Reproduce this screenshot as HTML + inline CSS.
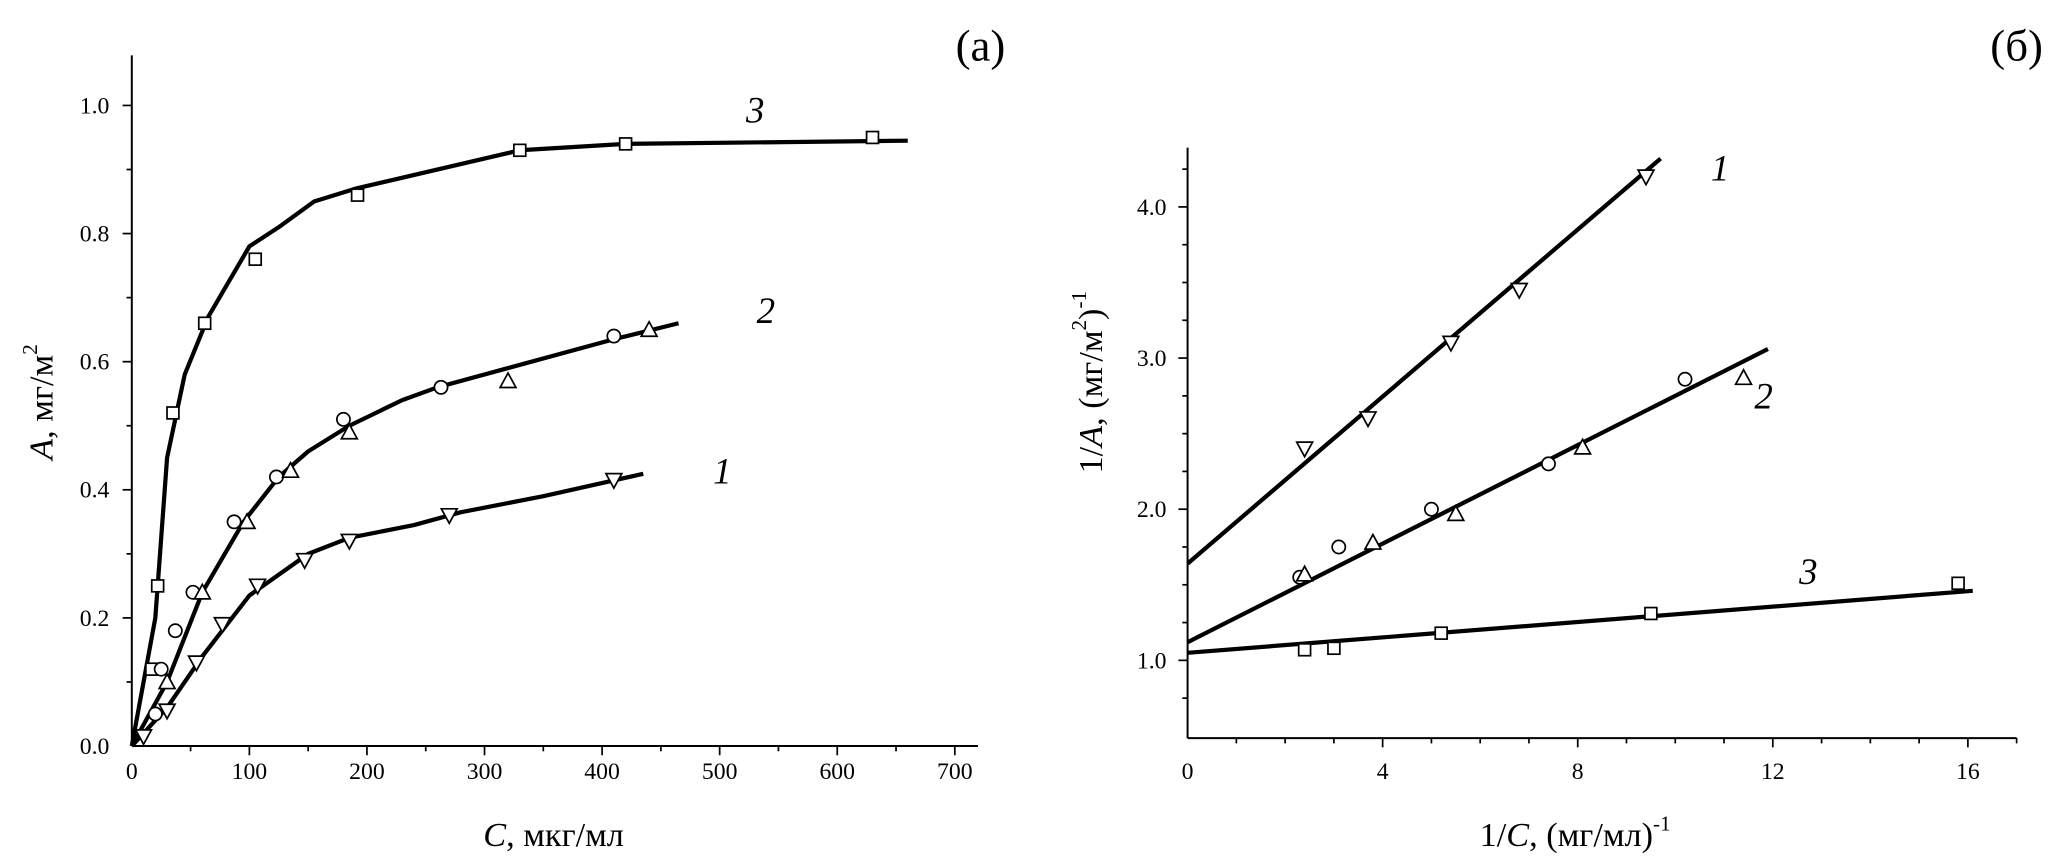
<!DOCTYPE html>
<html><head><meta charset="utf-8"><style>
html,body{margin:0;padding:0;background:#fff;}
svg{display:block;font-family:"Liberation Serif",serif;}
</style></head><body>
<svg id="fig" width="2067" height="864" viewBox="0 0 1568.2 655.5" xmlns="http://www.w3.org/2000/svg">
<rect width="1568.2" height="655.5" fill="#fff"/>
<g id="pa"></g>
<g id="pb"></g>
<text x="725" y="46" font-size="34">(а)</text>
<text x="1510" y="46" font-size="34">(б)</text>
</svg>
<script>
// Panel (a) data
const a3x=[17,22,35,62,105,192,330,420,630];
const a3y=[0.12,0.25,0.52,0.66,0.76,0.86,0.93,0.94,0.95];
const a3cx=[0,20,30,45,65,100,125,155,190,330,420,660];
const a3cy=[0,0.2,0.45,0.58,0.67,0.78,0.81,0.85,0.87,0.93,0.94,0.945];
const a2ox=[20,25,37,52,87,123,180,263,410];
const a2oy=[0.05,0.12,0.18,0.24,0.35,0.42,0.51,0.56,0.64];
const a2tx=[30,60,98,135,185,320,440];
const a2ty=[0.10,0.24,0.35,0.43,0.49,0.57,0.65];
const a2cx=[0,30,60,95,125,150,185,230,260,320,410,465];
const a2cy=[0,0.1,0.24,0.35,0.42,0.46,0.5,0.54,0.56,0.59,0.635,0.66];
const a1x=[10,30,55,77,107,147,185,270,410];
const a1y=[0.015,0.055,0.13,0.19,0.25,0.29,0.32,0.36,0.415];
const a1cx=[0,30,60,100,150,185,240,280,350,435];
const a1cy=[0,0.06,0.14,0.235,0.3,0.325,0.345,0.365,0.39,0.425];
const aXTicks=[0,100,200,300,400,500,600,700];
const aYTicks=[0,0.2,0.4,0.6,0.8,1.0];
// Panel (b) data
const b1x=[2.4,3.7,5.4,6.8,9.4];
const b1y=[2.4,2.6,3.1,3.45,4.2];
const b1lx=[0,9.7]; const b1ly=[1.64,4.32];
const b2ox=[2.3,3.1,5.0,7.4,10.2];
const b2oy=[1.55,1.75,2.0,2.3,2.86];
const b2tx=[2.4,3.8,5.5,8.1,11.4];
const b2ty=[1.57,1.78,1.97,2.41,2.87];
const b2lx=[0,11.9]; const b2ly=[1.12,3.06];
const b3x=[2.4,3.0,5.2,9.5,15.8];
const b3y=[1.07,1.08,1.18,1.31,1.51];
const b3lx=[0,16.1]; const b3ly=[1.05,1.46];
const bXTicks=[0,4,8,12,16];
const bYTicks=[1.0,2.0,3.0,4.0];

const NS="http://www.w3.org/2000/svg";
function mk(p,t,at){const e=document.createElementNS(NS,t);for(const k in at)e.setAttribute(k,at[k]);p.appendChild(e);return e;}
const ax=v=>100+v*0.892, ay=v=>566-v*486;
const bx=v=>901+v*37, by=v=>501-(v-1)*114.67;

function marker(g,t,x,y,name){
  let e;
  if(t==='sq') e=mk(g,'rect',{x:x-4.5,y:y-4.5,width:9,height:9,fill:'#fff',stroke:'#000','stroke-width':1.3});
  else if(t==='o') e=mk(g,'circle',{cx:x,cy:y,r:5,fill:'#fff',stroke:'#000','stroke-width':1.3});
  else if(t==='up') e=mk(g,'polygon',{points:`${x-6},${y+5} ${x+6},${y+5} ${x},${y-6}`,fill:'#fff',stroke:'#000','stroke-width':1.3});
  else e=mk(g,'polygon',{points:`${x-6},${y-5} ${x+6},${y-5} ${x},${y+6}`,fill:'#fff',stroke:'#000','stroke-width':1.3});
  
  
}
function line(g,xs,ys,fx,fy,name){
  const e=mk(g,'polyline',{points:xs.map((v,i)=>fx(v)+','+fy(ys[i])).join(' '),fill:'none',stroke:'#000','stroke-width':3.2,'stroke-linejoin':'round'});
  
  
}
function txt(g,x,y,s,attrs,name){const e=mk(g,'text',Object.assign({x:x,y:y},attrs));e.textContent=s;
  
  return e;}

// ---- Panel A
const A=document.getElementById('pa');
mk(A,'line',{x1:100,y1:42,x2:100,y2:566,stroke:'#000','stroke-width':1.5});
mk(A,'line',{x1:100,y1:566,x2:742,y2:566,stroke:'#000','stroke-width':1.5});
for(let v=50;v<=700;v+=50){const big=v%100===0;mk(A,'line',{x1:ax(v),y1:566,x2:ax(v),y2:566+(big?7:4),stroke:'#000','stroke-width':1.3});}
for(let k=1;k<=10;k++){const v=k/10;const big=k%2===0;mk(A,'line',{x1:100,y1:ay(v),x2:100-(big?7:4),y2:ay(v),stroke:'#000','stroke-width':1.3});}
aXTicks.forEach(v=>txt(A,ax(v),591,String(v),{'font-size':18,'text-anchor':'middle'},'x-tick-label'));
aYTicks.forEach(v=>txt(A,83,ay(v)+6,v.toFixed(1),{'font-size':18,'text-anchor':'end'},'y-tick-label'));
line(A,a3cx,a3cy,ax,ay,'curve-3');line(A,a2cx,a2cy,ax,ay,'curve-2');line(A,a1cx,a1cy,ax,ay,'curve-1');
a3x.forEach((v,i)=>marker(A,'sq',ax(v),ay(a3y[i]),'point-3'));
a2ox.forEach((v,i)=>marker(A,'o',ax(v),ay(a2oy[i]),'point-2-circle'));
a2tx.forEach((v,i)=>marker(A,'up',ax(v),ay(a2ty[i]),'point-2-triangle'));
a1x.forEach((v,i)=>marker(A,'dn',ax(v),ay(a1y[i]),'point-1'));
txt(A,566,93,'3',{'font-size':28,'font-style':'italic'},'curve-label-3');
txt(A,574,245,'2',{'font-size':28,'font-style':'italic'},'curve-label-2');
txt(A,541,367,'1',{'font-size':28,'font-style':'italic'},'curve-label-1');
let t=txt(A,420,642,'',{'font-size':26,'text-anchor':'middle'},'x-axis-title');
t.innerHTML='<tspan font-style="italic">C</tspan>, мкг/мл';
t=txt(A,0,0,'',{'font-size':26,'text-anchor':'middle',transform:'translate(40,305) rotate(-90)'},'y-axis-title');
t.innerHTML='<tspan font-style="italic">A</tspan>, мг/м<tspan font-size="16" dy="-12">2</tspan>';

// ---- Panel B
const B=document.getElementById('pb');
mk(B,'line',{x1:901,y1:112,x2:901,y2:560,stroke:'#000','stroke-width':1.5});
mk(B,'line',{x1:901,y1:560,x2:1530,y2:560,stroke:'#000','stroke-width':1.5});
for(let v=1;v<=17;v++){const big=v%4===0;mk(B,'line',{x1:bx(v),y1:560,x2:bx(v),y2:560+(big?7:4),stroke:'#000','stroke-width':1.3});}
for(let k=0;k<=14;k++){const v=0.75+k*0.25;if(by(v)>559)continue;const big=Math.abs(v-Math.round(v))<1e-6;mk(B,'line',{x1:901,y1:by(v),x2:901-(big?7:4),y2:by(v),stroke:'#000','stroke-width':1.3});}
bXTicks.forEach(v=>txt(B,bx(v),591,String(v),{'font-size':18,'text-anchor':'middle'},'x-tick-label'));
bYTicks.forEach(v=>txt(B,885,by(v)+6,v.toFixed(1),{'font-size':18,'text-anchor':'end'},'y-tick-label'));
line(B,b1lx,b1ly,bx,by,'fit-line-1');line(B,b2lx,b2ly,bx,by,'fit-line-2');line(B,b3lx,b3ly,bx,by,'fit-line-3');
b1x.forEach((v,i)=>marker(B,'dn',bx(v),by(b1y[i]),'point-1'));
b2ox.forEach((v,i)=>marker(B,'o',bx(v),by(b2oy[i]),'point-2-circle'));
b2tx.forEach((v,i)=>marker(B,'up',bx(v),by(b2ty[i]),'point-2-triangle'));
b3x.forEach((v,i)=>marker(B,'sq',bx(v),by(b3y[i]),'point-3'));
txt(B,1298,137,'1',{'font-size':28,'font-style':'italic'},'line-label-1');
txt(B,1331,310,'2',{'font-size':28,'font-style':'italic'},'line-label-2');
txt(B,1365,443,'3',{'font-size':28,'font-style':'italic'},'line-label-3');
t=txt(B,1195,642,'',{'font-size':26,'text-anchor':'middle'},'x-axis-title');
t.innerHTML='1/<tspan font-style="italic">C</tspan>, (мг/мл)<tspan font-size="16" dy="-12">-1</tspan>';
t=txt(B,0,0,'',{'font-size':26,'text-anchor':'middle',transform:'translate(836,290) rotate(-90)'},'y-axis-title');
t.innerHTML='1/<tspan font-style="italic">A</tspan>, (мг/м<tspan font-size="16" dy="-12">2</tspan><tspan dy="12">)</tspan><tspan font-size="16" dy="-12">-1</tspan>';
</script>
</body></html>
